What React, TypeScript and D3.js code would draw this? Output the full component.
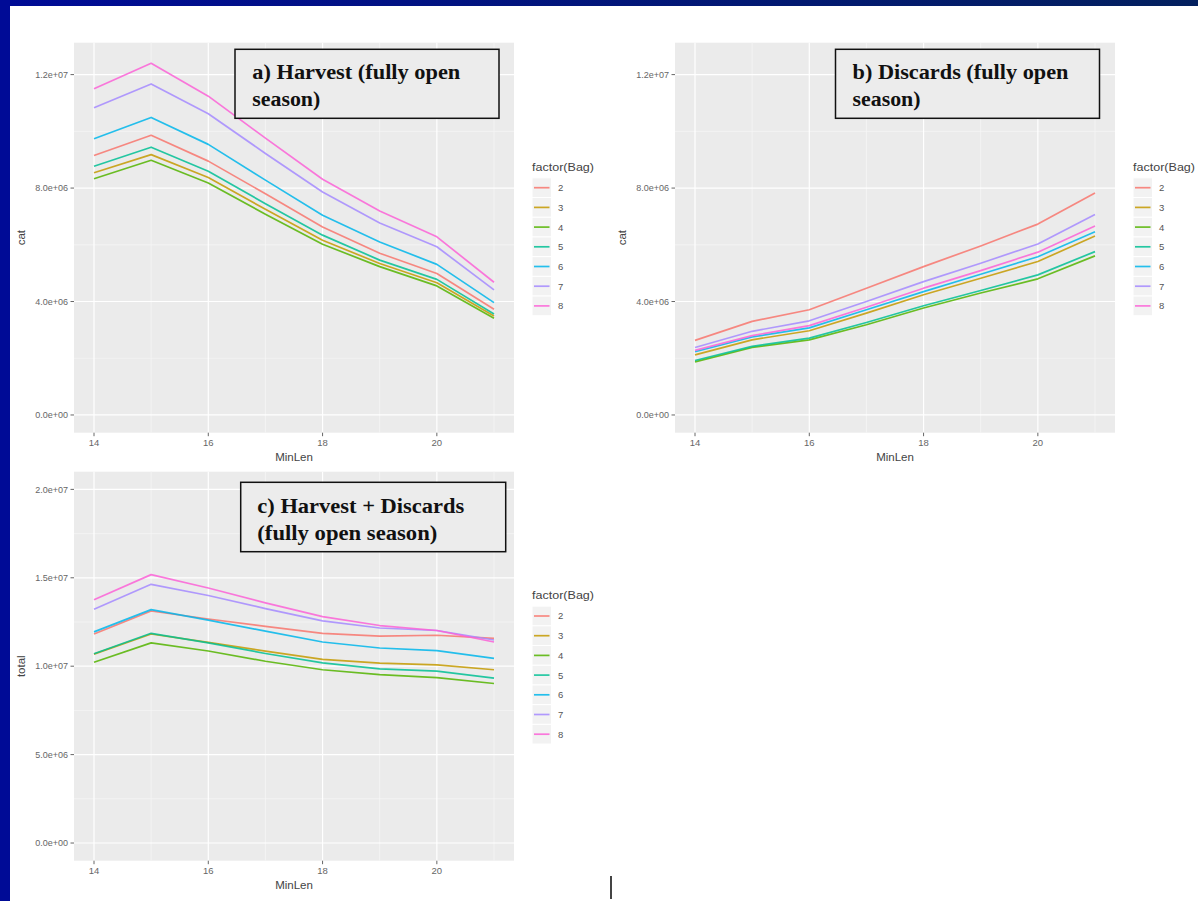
import React from "react";
import * as d3 from "d3";

// ---------------- data (values in millions) ----------------
const minLen = [14, 15, 16, 17, 18, 19, 20, 21];
const bags = ["2", "3", "4", "5", "6", "7", "8"];
const bagColors = ["#F8766D", "#C49A00", "#53B400", "#00C094", "#00B6EB", "#A58AFF", "#FB61D7"];

// rows follow `bags` order
const harvestByBag = [
  [9.15, 9.86, 8.95, 7.8, 6.63, 5.7, 4.99, 3.73],
  [8.54, 9.18, 8.37, 7.25, 6.16, 5.34, 4.66, 3.49],
  [8.33, 8.98, 8.18, 7.08, 6.02, 5.23, 4.55, 3.41],
  [8.77, 9.44, 8.59, 7.45, 6.34, 5.46, 4.78, 3.56],
  [9.74, 10.49, 9.54, 8.28, 7.04, 6.1, 5.31, 3.96],
  [10.83, 11.67, 10.62, 9.22, 7.86, 6.77, 5.93, 4.41],
  [11.5, 12.4, 11.24, 9.76, 8.31, 7.19, 6.28, 4.68],
];

const discardsByBag = [
  [2.63, 3.3, 3.71, 4.47, 5.23, 5.96, 6.73, 7.83],
  [2.12, 2.65, 2.97, 3.59, 4.24, 4.82, 5.41, 6.31],
  [1.87, 2.38, 2.65, 3.18, 3.77, 4.3, 4.8, 5.61],
  [1.92, 2.42, 2.71, 3.26, 3.85, 4.39, 4.94, 5.76],
  [2.23, 2.75, 3.07, 3.71, 4.35, 4.96, 5.58, 6.46],
  [2.38, 2.95, 3.32, 4.0, 4.7, 5.35, 6.03, 7.07],
  [2.28, 2.8, 3.15, 3.8, 4.47, 5.09, 5.74, 6.66],
];

const totalByBag = [
  [11.82, 13.12, 12.67, 12.25, 11.86, 11.7, 11.75, 11.57],
  [10.68, 11.82, 11.35, 10.85, 10.39, 10.17, 10.08, 9.8],
  [10.22, 11.32, 10.86, 10.28, 9.8, 9.52, 9.35, 9.02],
  [10.7, 11.86, 11.32, 10.72, 10.19, 9.85, 9.72, 9.33],
  [11.94, 13.2, 12.61, 11.98, 11.37, 11.03, 10.88, 10.44],
  [13.22, 14.63, 14.0, 13.26, 12.56, 12.16, 12.02, 11.48],
  [13.76, 15.18, 14.42, 13.58, 12.8, 12.3, 12.02, 11.37],
];

const xTicks = [14, 16, 18, 20];
const xMinor = [15, 17, 19, 21];
const catTicks = [0, 4, 8, 12];
const catTickLabels = ["0.0e+00", "4.0e+06", "8.0e+06", "1.2e+07"];
const catMinor = [2, 6, 10];
const totalTicks = [0, 5, 10, 15, 20];
const totalTickLabels = ["0.0e+00", "5.0e+06", "1.0e+07", "1.5e+07", "2.0e+07"];
const totalMinor = [2.5, 7.5, 12.5, 17.5];

const titleA = ["a) Harvest (fully open", "season)"];
const titleB = ["b) Discards (fully open", "season)"];
const titleC = ["c) Harvest + Discards", "(fully open season)"];

// ---------------- drawing ----------------
const SANS = "'Liberation Sans', Arial, sans-serif";
const SERIF = "'Liberation Serif', 'Times New Roman', serif";

type PanelProps = {
  left: number;
  top: number;
  bottom: number;
  yDomain: [number, number];
  yTicks: number[];
  yLabels: string[];
  yMinor: number[];
  yTitle: string;
  values: number[][];
  title: string[];
  box: { x: number; y: number; w: number; h: number; tx: number; b1: number; b2: number; l1: number; l2: number };
  legendTitleY: number;
};

function Panel(p: PanelProps) {
  const width = 440;
  const x = d3.scaleLinear().domain([13.65, 21.35]).range([p.left, p.left + width]);
  const y = d3.scaleLinear().domain(p.yDomain).range([p.bottom, p.top]);
  const line = d3
    .line<number>()
    .x((_, i) => x(minLen[i]))
    .y((v) => y(v));
  const x0 = p.left;
  const x1 = p.left + width;
  const legX = x1 + 18;
  const keyH = 19.7;
  const firstKey = p.legendTitleY + 21;
  return (
    <g>
      <rect x={x0} y={p.top} width={width} height={p.bottom - p.top} fill="#ebebeb" />
      {p.yMinor.map((v) => (
        <line key={"ym" + v} x1={x0} x2={x1} y1={y(v)} y2={y(v)} stroke="#f7f7f7" strokeWidth={0.7} />
      ))}
      {xMinor.map((v) => (
        <line key={"xm" + v} x1={x(v)} x2={x(v)} y1={p.top} y2={p.bottom} stroke="#f7f7f7" strokeWidth={0.7} />
      ))}
      {p.yTicks.map((v) => (
        <line key={"yM" + v} x1={x0} x2={x1} y1={y(v)} y2={y(v)} stroke="#ffffff" strokeWidth={1.2} />
      ))}
      {xTicks.map((v) => (
        <line key={"xM" + v} x1={x(v)} x2={x(v)} y1={p.top} y2={p.bottom} stroke="#ffffff" strokeWidth={1.2} />
      ))}
      {p.values.map((row, i) => (
        <path
          key={"s" + i}
          d={line(row) || ""}
          fill="none"
          stroke={bagColors[i]}
          strokeOpacity={0.85}
          strokeWidth={1.7}
          strokeLinejoin="round"
        />
      ))}
      {/* y axis */}
      {p.yTicks.map((v, i) => (
        <g key={"yt" + v}>
          <line x1={x0 - 3.5} x2={x0} y1={y(v)} y2={y(v)} stroke="#666" strokeWidth={1} />
          <text x={x0 - 6} y={y(v) + 3.2} textAnchor="end" fontFamily={SANS} fontSize={9} fill="#666">
            {p.yLabels[i]}
          </text>
        </g>
      ))}
      {/* x axis */}
      {xTicks.map((v) => (
        <g key={"xt" + v}>
          <line x1={x(v)} x2={x(v)} y1={p.bottom} y2={p.bottom + 3.5} stroke="#666" strokeWidth={1} />
          <text x={x(v)} y={p.bottom + 13.5} textAnchor="middle" fontFamily={SANS} fontSize={9.5} fill="#666">
            {v}
          </text>
        </g>
      ))}
      <text x={(x0 + x1) / 2} y={p.bottom + 28} textAnchor="middle" fontFamily={SANS} fontSize={11.5} fill="#444">
        MinLen
      </text>
      <text
        transform={`translate(${x0 - 49},${(p.top + p.bottom) / 2}) rotate(-90)`}
        textAnchor="middle"
        fontFamily={SANS}
        fontSize={11.5}
        fill="#444"
      >
        {p.yTitle}
      </text>
      {/* legend */}
      <text
        x={legX}
        y={p.legendTitleY + 4}
        fontFamily={SANS}
        fontSize={11.5}
        fill="#444"
        textLength={62}
        lengthAdjust="spacingAndGlyphs"
      >
        factor(Bag)
      </text>
      {bags.map((b, i) => {
        const cy = firstKey + i * keyH;
        return (
          <g key={"lg" + b}>
            <rect x={legX} y={cy - keyH / 2} width={19.5} height={keyH} fill="#f2f2f2" stroke="#ffffff" strokeWidth={1} />
            <line
              x1={legX + 2}
              x2={legX + 17.5}
              y1={cy}
              y2={cy}
              stroke={bagColors[i]}
              strokeOpacity={0.85}
              strokeWidth={1.7}
            />
            <text x={legX + 26} y={cy + 3.4} fontFamily={SANS} fontSize={9.5} fill="#555">
              {b}
            </text>
          </g>
        );
      })}
      {/* title box */}
      <rect x={p.box.x} y={p.box.y} width={p.box.w} height={p.box.h} fill="#ececec" stroke="#111" strokeWidth={1.5} />
      <text
        x={p.box.tx}
        y={p.box.b1}
        fontFamily={SERIF}
        fontWeight="bold"
        fontSize={20}
        fill="#111"
        textLength={p.box.l1}
        lengthAdjust="spacingAndGlyphs"
      >
        {p.title[0]}
      </text>
      <text
        x={p.box.tx}
        y={p.box.b2}
        fontFamily={SERIF}
        fontWeight="bold"
        fontSize={20}
        fill="#111"
        textLength={p.box.l2}
        lengthAdjust="spacingAndGlyphs"
      >
        {p.title[1]}
      </text>
    </g>
  );
}

export default function App() {
  return (
    <svg
      width={1198}
      height={901}
      viewBox="0 0 1198 901"
      style={{ position: "absolute", left: 0, top: 0, display: "block" }}
    >
      <defs>
        <linearGradient id="topband" x1="0" x2="1" y1="0" y2="0">
          <stop offset="0" stopColor="#000b96" />
          <stop offset="1" stopColor="#03205e" />
        </linearGradient>
      </defs>
      <rect x={0} y={0} width={1198} height={901} fill="#ffffff" />
      <rect x={0} y={0} width={1198} height={6} fill="url(#topband)" />
      <rect x={0} y={0} width={10} height={901} fill="#000b96" />

      <Panel
        left={74}
        top={42.7}
        bottom={432.7}
        yDomain={[-0.625, 13.125]}
        yTicks={catTicks}
        yLabels={catTickLabels}
        yMinor={catMinor}
        yTitle="cat"
        values={harvestByBag}
        title={titleA}
        box={{ x: 235, y: 49.3, w: 264, h: 69, tx: 252.3, b1: 79, b2: 106, l1: 208, l2: 68 }}
        legendTitleY={166.7}
      />
      <Panel
        left={675}
        top={42.7}
        bottom={432.7}
        yDomain={[-0.625, 13.125]}
        yTicks={catTicks}
        yLabels={catTickLabels}
        yMinor={catMinor}
        yTitle="cat"
        values={discardsByBag}
        title={titleB}
        box={{ x: 835.5, y: 49.3, w: 264, h: 69, tx: 852.5, b1: 79, b2: 106, l1: 216, l2: 68 }}
        legendTitleY={166.7}
      />
      <Panel
        left={74}
        top={471.7}
        bottom={860.7}
        yDomain={[-1, 21]}
        yTicks={totalTicks}
        yLabels={totalTickLabels}
        yMinor={totalMinor}
        yTitle="total"
        values={totalByBag}
        title={titleC}
        box={{ x: 240.7, y: 482.3, w: 265, h: 69.4, tx: 257.3, b1: 513, b2: 540, l1: 207, l2: 180 }}
        legendTitleY={595}
      />
      <rect x={610} y={876} width={2} height={23} fill="#444" />
    </svg>
  );
}
